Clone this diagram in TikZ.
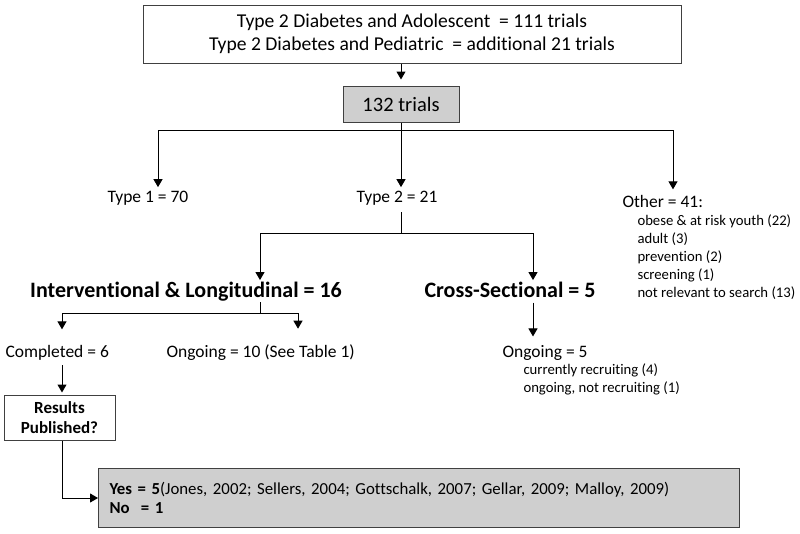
\documentclass[tikz,border=0pt]{standalone}
\usepackage{fontspec}
\setmainfont{Carlito}[Ligatures=CommonOff]
\usetikzlibrary{arrows.meta,positioning}

\begin{document}
\begin{tikzpicture}[x=1pt,y=-1pt,line width=1pt,
  arr/.style={-{Triangle[width=9pt,length=8pt]}},
  box/.style={draw=black!75,inner sep=0pt},
  lbl/.style={inner sep=0pt,anchor=base,font=\fontsize{17.5}{20}\selectfont},
  head/.style={inner sep=0pt,anchor=base,font=\fontsize{22}{26}\selectfont\bfseries},
  sub/.style={inner sep=0pt,anchor=base west,font=\fontsize{14.7}{17}\selectfont}]
  \useasboundingbox (0,0) rectangle (800,533);
  % search and total
  \node[box,minimum width=538,minimum height=58,align=center,
    font=\fontsize{19.6}{23}\selectfont] (search) at (412,34)
    {Type 2 Diabetes and Adolescent\ \ = 111 trials\\Type 2 Diabetes and Pediatric\ \ = additional 21 trials};
  \node[box,fill=black!19,minimum width=116,minimum height=36,
    font=\fontsize{20.5}{24}\selectfont] (trials) at (401,104) {132 trials};
  \draw[arr,shorten >=6pt] (search.south -| trials) -- (trials.north);
  % first split
  \coordinate (b1) at (158,130);
  \coordinate (b2) at (401,130);
  \coordinate (b3) at (673,130);
  \node[lbl] (type1) at (148,202) {Type 1 = 70};
  \node[lbl] (type2) at (397,202) {Type 2 = 21};
  \node[lbl,anchor=base west] (other) at (622,207) {Other = 41:};
  \foreach \t [count=\i] in {obese \& at risk youth (22),adult (3),prevention (2),screening (1),not relevant to search (13)}
    \node[sub] (oth\i) at (637,208+17.8*\i) {\t};
  \draw (trials.south) -- (b2);
  \draw (b1) -- (b3);
  \draw[arr,shorten >=3pt] (b1) -- (b1 |- type1.north);
  \draw[arr,shorten >=3pt] (b2) -- (b2 |- type2.north);
  \draw[arr,shorten >=5pt] (b3) -- (b3 |- other.north);
  % type 2
  \coordinate (c1) at (260,233);
  \coordinate (c2) at (533,233);
  \node[head] (interv) at (186,297) {Interventional \& Longitudinal = 16};
  \node[head] (cross) at (510,297) {Cross-Sectional = 5};
  \draw ([yshift=-7pt]type2.south -| b2) |- (c2);
  \draw (c1) -- (c2);
  \draw[arr,shorten >=1pt] (c1) -- (c1 |- interv.north);
  \draw[arr,shorten >=1pt] (c2) -- (c2 |- cross.north);
  % interventional
  \coordinate (d1) at (62,313);
  \coordinate (d2) at (298,313);
  \node[lbl,anchor=base west] (done) at (5,357) {Completed = 6};
  \node[lbl,anchor=base west] (ongo) at (166,357) {Ongoing = 10 (See Table 1)};
  \draw ([yshift=-1pt]interv.south -| c1) -- (c1 |- d1);
  \draw (d1) -- (d2);
  \draw[arr,shorten >=15pt] (d1) -- (d1 |- done.north);
  \draw[arr,shorten >=15pt] (d2) -- (d2 |- ongo.north);
  % cross-sectional
  \node[lbl,anchor=base west] (ongoing) at (502,357) {Ongoing = 5};
  \foreach \t [count=\i] in {currently recruiting (4),{ongoing, not recruiting (1)}}
    \node[sub] (ong\i) at (523,357+17.5*\i) {\t};
  \draw[arr,shorten >=8pt] ([yshift=-5pt]cross.south -| c2) -- (c2 |- ongoing.north);
  % results
  \node[box,minimum width=111,minimum height=45,align=center,
    font=\fontsize{17}{20}\selectfont\bfseries] (results) at (59.5,417.5) {Results\\Published?};
  \node[box,fill=black!19,anchor=north west,minimum width=641,minimum height=59,
    text width=619,inner xsep=11pt,align=left,
    font=\fontsize{16.8}{19}\selectfont] (pub) at (98,468)
    {\textbf{Yes = 5}(Jones, 2002; Sellers, 2004; Gottschalk, 2007; Gellar, 2009; Malloy, 2009)\\\textbf{No\ \ = 1}};
  \draw[arr,shorten >=2pt] ([yshift=-5pt]done.south -| d1) -- (d1 |- results.north);
  \draw[arr] (results.south -| d1) |- (pub.west);
\end{tikzpicture}
\end{document}
